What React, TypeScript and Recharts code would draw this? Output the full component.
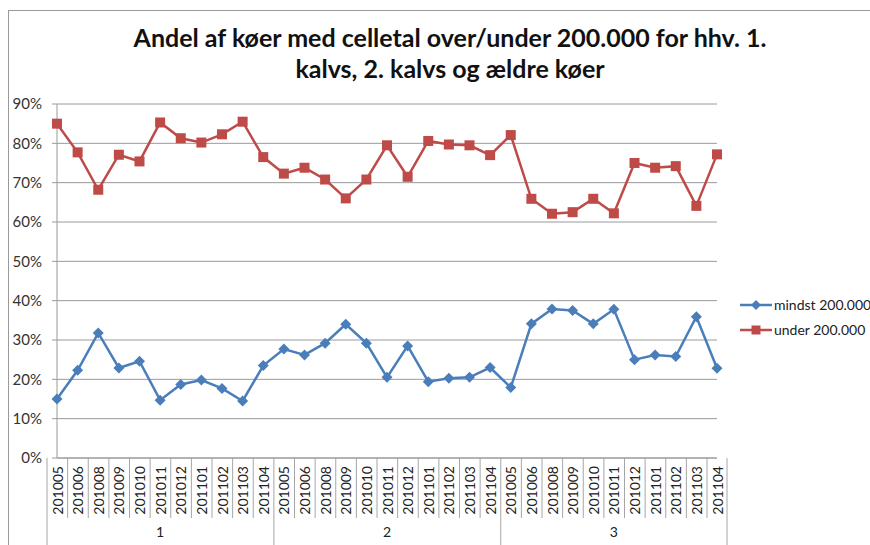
import React from "react";
import { LineChart, Line, XAxis, YAxis, CartesianGrid } from "recharts";

const MONTHS = [
  "201005", "201006", "201008", "201009", "201010", "201011",
  "201012", "201101", "201102", "201103", "201104",
];
const GROUPS = ["1", "2", "3"];

const MINDST = [
  15, 22.3, 31.8, 22.9, 24.6, 14.7, 18.7, 19.8, 17.7, 14.5, 23.5,
  27.7, 26.2, 29.2, 34, 29.2, 20.5, 28.5, 19.4, 20.3, 20.5, 23,
  17.9, 34.1, 37.9, 37.5, 34.1, 37.8, 25, 26.2, 25.8, 35.9, 22.8,
];
const UNDER = [
  85, 77.7, 68.2, 77.1, 75.4, 85.3, 81.3, 80.2, 82.3, 85.5, 76.5,
  72.3, 73.8, 70.8, 66, 70.8, 79.5, 71.5, 80.6, 79.7, 79.5, 77,
  82.1, 65.9, 62.1, 62.5, 65.9, 62.2, 75, 73.8, 74.2, 64.1, 77.2,
];
const Y_TICKS = [0, 10, 20, 30, 40, 50, 60, 70, 80, 90];

const BLUE = "#4A7EBB";
const RED = "#BE4B48";
const FONT = "Lato, 'Open Sans', sans-serif";

const data = GROUPS.flatMap((g, gi) =>
  MONTHS.map((m, mi) => ({
    key: `${g}-${m}`,
    month: m,
    group: g,
    mindst: MINDST[gi * MONTHS.length + mi],
    under: UNDER[gi * MONTHS.length + mi],
  }))
);

const Diamond = (props: any) => {
  const { cx, cy } = props;
  if (cx == null || cy == null) return null;
  const r = 5.5;
  return (
    <polygon
      points={`${cx},${cy - r} ${cx + r},${cy} ${cx},${cy + r} ${cx - r},${cy}`}
      fill={BLUE}
    />
  );
};

const Square = (props: any) => {
  const { cx, cy } = props;
  if (cx == null || cy == null) return null;
  return <rect x={cx - 5} y={cy - 5} width={10} height={10} fill={RED} />;
};

const XTick = (props: any) => {
  const { x, y, payload } = props;
  const i = payload.index;
  const n = MONTHS.length;
  const half = 10;
  const row = data[i];
  return (
    <g>
      <line
        x1={x - half}
        x2={x - half}
        y1={y}
        y2={i % n === 0 ? y + 87 : y + 60}
        stroke="#A6A6A6"
      />
      {i === data.length - 1 && (
        <line x1={x + half} x2={x + half} y1={y} y2={y + 87} stroke="#A6A6A6" />
      )}
      <text
        transform={`translate(${x},${y + 8}) rotate(-90)`}
        textAnchor="end"
        dominantBaseline="central"
        fontSize={14}
        fontFamily={FONT}
        fill="#222"
      >
        {row ? row.month : ""}
      </text>
      {i % n === 5 && (
        <text x={x} y={y + 79} textAnchor="middle" fontSize={14} fontFamily={FONT} fill="#222">
          {row.group}
        </text>
      )}
    </g>
  );
};

const LegendBox = () => (
  <div style={{ position: "absolute", left: 740, top: 292, fontFamily: FONT, fontSize: 14, color: "#222", whiteSpace: "nowrap" }}>
    {[
      { name: "mindst 200.000", color: BLUE, shape: "d" },
      { name: "under 200.000", color: RED, shape: "s" },
    ].map((it) => (
      <div key={it.name} style={{ display: "flex", alignItems: "center", height: 25 }}>
        <svg width={32} height={14}>
          <line x1={0} x2={32} y1={7} y2={7} stroke={it.color} strokeWidth={2.5} />
          {it.shape === "d" ? (
            <polygon points="16,2 21,7 16,12 11,7" fill={it.color} />
          ) : (
            <rect x={11.5} y={2.5} width={9} height={9} fill={it.color} />
          )}
        </svg>
        <span style={{ marginLeft: 2 }}>{it.name}</span>
      </div>
    ))}
  </div>
);

export default function App() {
  return (
    <div style={{ position: "absolute", left: 0, top: 0, width: 870, height: 545, background: "#fff", overflow: "hidden" }}>
      <div
        style={{
          position: "absolute",
          left: 8,
          top: 10,
          width: 900,
          height: 600,
          borderLeft: "1px solid #9a9a9a",
          borderTop: "1px solid #9a9a9a",
        }}
      />
      <div
        style={{
          position: "absolute",
          left: 40,
          width: 820,
          top: 22,
          textAlign: "center",
          fontFamily: FONT,
          fontWeight: 700,
          fontSize: 25,
          lineHeight: "31px",
          color: "#111",
        }}
      >
        Andel af køer med celletal over/under 200.000 for hhv. 1.
        <br />
        kalvs, 2. kalvs og ældre køer
      </div>
      <div style={{ position: "absolute", left: 0, top: 0 }}>
        <LineChart width={870} height={545} data={data} margin={{ top: 104, right: 153, bottom: 0, left: 0 }}>
          <CartesianGrid vertical={false} stroke="#9a9a9a" />
          <XAxis
            dataKey="key"
            interval={0}
            tickLine={false}
            tickSize={0}
            tickMargin={0}
            height={87}
            axisLine={{ stroke: "#9a9a9a" }}
            tick={<XTick />}
          />
          <YAxis
            width={57}
            domain={[0, 90]}
            ticks={Y_TICKS}
            tickFormatter={(v) => `${v}%`}
            axisLine={{ stroke: "#9a9a9a" }}
            tickLine={{ stroke: "#9a9a9a" }}
            tickSize={5}
            tickMargin={10}
            tick={{ fontSize: 15, fontFamily: FONT, fill: "#333" }}
          />
          <Line
            dataKey="mindst"
            name="mindst 200.000"
            stroke={BLUE}
            strokeWidth={2.5}
            dot={<Diamond />}
            isAnimationActive={false}
          />
          <Line
            dataKey="under"
            name="under 200.000"
            stroke={RED}
            strokeWidth={2.5}
            dot={<Square />}
            isAnimationActive={false}
          />
        </LineChart>
      </div>
      <LegendBox />
    </div>
  );
}
